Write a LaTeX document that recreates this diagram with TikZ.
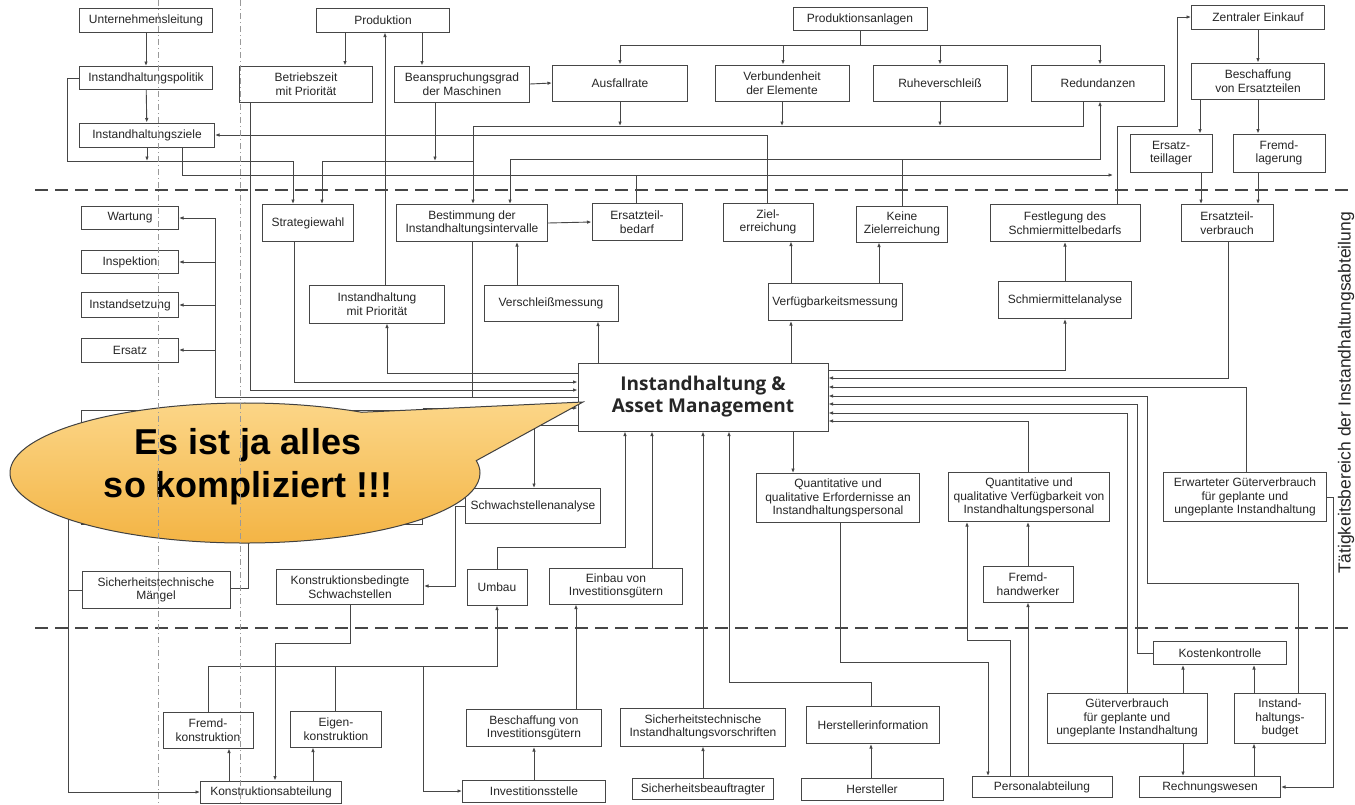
\documentclass[tikz,border=0pt]{standalone}
\usepackage{fontspec}
\setmainfont{Liberation Sans}
\newfontfamily\iamfont{Open Sans}
\usepackage{tikz}
\usetikzlibrary{arrows.meta,shapes.callouts}
\definecolor{linie}{RGB}{70,70,70}
\definecolor{blasehell}{RGB}{252,216,140}
\definecolor{blasedunkel}{RGB}{243,178,64}
\tikzset{
   box/.style={draw=linie, line width=1pt, fill=white, rectangle, inner sep=1pt, align=center,
               font=\fontsize{12}{13.5}\selectfont, text=black!85},
   bw/.style={minimum width=#1pt},
   bh/.style={minimum height=#1pt},
   link/.style={draw=linie, line width=0.9pt},
   flow/.style={link, -{Latex[length=4.5pt,width=3.6pt]}}
}

\begin{document}
\begin{tikzpicture}[x=1pt,y=-1pt]
  \tikzstyle{trenn} = [linie, line width=1.6pt, dash pattern=on 13pt off 7pt];
  \tikzstyle{hilfs} = [black!40, line width=0.6pt, dash pattern=on 6pt off 3pt on 1pt off 3pt];
  \tikzstyle{blasentext} = [font={\fontsize{36}{43}\selectfont\bfseries}, align=center];
  \useasboundingbox[fill=white] (0,0) rectangle (1355,804);

  % obere Ebene
  \node[box, bw=133, bh=24] (unt) at (146,20) {Unternehmensleitung};
  \node[box, bw=133, bh=24] (prod) at (383,20) {Produktion};
  \node[box, bw=134, bh=23] (panl) at (860,19) {Produktionsanlagen};
  \node[box, bw=133, bh=24] (zeink) at (1258,17) {Zentraler Einkauf};
  \node[box, bw=133, bh=23] (ihpol) at (146,78) {Instandhaltungspolitik};
  \node[box, bw=133, bh=36] (betr) at (306,84) {Betriebszeit\\mit Priorität};
  \node[box, bw=135, bh=36] (bean) at (462,84) {Beanspruchungsgrad\\der Maschinen};
  \node[box, bw=135, bh=36] (ausf) at (620,83) {Ausfallrate};
  \node[box, bw=134, bh=36] (verb) at (782,83) {Verbundenheit\\der Elemente};
  \node[box, bw=134, bh=36] (ruhe) at (940,83) {Ruheverschleiß};
  \node[box, bw=133, bh=36] (redu) at (1098,83) {Redundanzen};
  \node[box, bw=133, bh=36] (besch) at (1258,81) {Beschaffung\\von Ersatzteilen};
  \node[box, bw=135, bh=24] (ihziel) at (147,135) {Instandhaltungsziele};
  \node[box, bw=82, bh=38] (etlag) at (1171,153) {Ersatz-\\teillager};
  \node[box, bw=92, bh=38] (fremdl) at (1279,153) {Fremd-\\lagerung};

  % Taetigkeitsbereich
  \node[box, bw=97, bh=23] (wart) at (130,218) {Wartung};
  \node[box, bw=97, bh=23] (inspe) at (130,262) {Inspektion};
  \node[box, bw=97, bh=25] (isetz) at (130,305) {Instandsetzung};
  \node[box, bw=97, bh=24] (ersatz) at (130,350) {Ersatz};
  \node[box, bw=91, bh=37] (strat) at (308,223) {Strategiewahl};
  \node[box, bw=151, bh=37] (bestim) at (472,223) {Bestimmung der\\Instandhaltungsintervalle};
  \node[box, bw=90, bh=37] (etbed) at (637,222) {Ersatzteil-\\bedarf};
  \node[box, bw=90, bh=38] (ziel) at (768,222) {Ziel-\\erreichung};
  \node[box, bw=91, bh=36] (kziel) at (902,224) {Keine\\Zielerreichung};
  \node[box, bw=150, bh=37] (fest) at (1065,223) {Festlegung des\\Schmiermittelbedarfs};
  \node[box, bw=92, bh=37] (etverb) at (1227,223) {Ersatzteil-\\verbrauch};
  \node[box, bw=135, bh=38] (ihprio) at (377,304) {Instandhaltung\\mit Priorität};
  \node[box, bw=134, bh=36] (versch) at (551,303) {Verschleißmessung};
  \node[box, bw=134, bh=37] (verf) at (835,302) {Verfügbarkeitsmessung};
  \node[box, bw=133, bh=37] (schmier) at (1065,300) {Schmiermittelanalyse};
  \node[box, bw=250, bh=68, font={\iamfont\fontsize{19}{22}\selectfont\bfseries}] (iam) at (703,397)
       {Instandhaltung \&\\Asset Management};
  \node[box, bw=341, bh=114] (verdeckt) at (252,467) {};
  \node[box, bw=135, bh=35] (schwach) at (533,506) {Schwachstellenanalyse};
  \node[box, bw=163, bh=49] (qerf) at (838,498) {Quantitative und\\qualitative Erfordernisse an\\Instandhaltungspersonal};
  \node[box, bw=161, bh=49] (qverf) at (1029,497) {Quantitative und\\qualitative Verfügbarkeit von\\Instandhaltungspersonal};
  \node[box, bw=163, bh=49] (erwart) at (1245,497) {Erwarteter Güterverbrauch\\für geplante und\\ungeplante Instandhaltung};
  \node[box, bw=148, bh=37] (maengel) at (156,590) {Sicherheitstechnische\\Mängel};
  \node[box, bw=147, bh=35] (kbed) at (350,587) {Konstruktionsbedingte\\Schwachstellen};
  \node[box, bw=60, bh=36] (umbau) at (497,587) {Umbau};
  \node[box, bw=133, bh=36] (einbau) at (616,586) {Einbau von\\Investitionsgütern};
  \node[box, bw=90, bh=36] (fremdh) at (1028,584) {Fremd-\\handwerker};

  % untere Ebene
  \node[box, bw=133, bh=23] (kosten) at (1220,653) {Kostenkontrolle};
  \node[box, bw=90, bh=36] (fremdk) at (208,730) {Fremd-\\konstruktion};
  \node[box, bw=91, bh=36] (eigenk) at (336,729) {Eigen-\\konstruktion};
  \node[box, bw=135, bh=37] (beinv) at (534,728) {Beschaffung von\\Investitionsgütern};
  \node[box, bw=165, bh=38] (sivor) at (703,727) {Sicherheitstechnische\\Instandhaltungsvorschriften};
  \node[box, bw=133, bh=37] (hinfo) at (873,725) {Herstellerinformation};
  \node[box, bw=160, bh=50] (guet) at (1127,718) {Güterverbrauch\\für geplante und\\ungeplante Instandhaltung};
  \node[box, bw=91, bh=50] (budget) at (1280,718) {Instand-\\haltungs-\\budget};
  \node[box, bw=141, bh=22] (konab) at (271,792) {Konstruktionsabteilung};
  \node[box, bw=143, bh=22] (invst) at (534,791) {Investitionsstelle};
  \node[box, bw=141, bh=21] (sibea) at (703,789) {Sicherheitsbeauftragter};
  \node[box, bw=142, bh=22] (herst) at (872,789) {Hersteller};
  \node[box, bw=140, bh=21] (pers) at (1042,787) {Personalabteilung};
  \node[box, bw=141, bh=21] (rechn) at (1210,787) {Rechnungswesen};

  \node[rotate=90, font=\fontsize{17.5}{20}\selectfont, text=black!85] (bereich) at (1346,393)
       {Tätigkeitsbereich der Instandhaltungsabteilung};

  \draw[trenn] (35,190) -- (1355,190);
  \draw[trenn] (35,628) -- (1355,628);

  % Verbindungen oben
  \draw[flow] (unt) -- (ihpol);
  \draw[flow] (ihpol) -- (ihziel);
  \draw[flow] (prod.south -| 345,0) -- (betr.north -| 345,0);
  \draw[flow] (prod.south -| 422,0) -- (bean.north -| 422,0);
  \draw[flow] (ihprio.north -| 385,0) -- (prod.south -| 385,0);
  \draw[flow] (bean.east) -- (ausf.west);
  \coordinate (abus) at (860,45);
  \draw[link] (panl.south) -- (abus);
  \draw[link] (ausf.north |- abus) -- (1100,45);
  \foreach \n/\xx in {ausf/620, verb/783, ruhe/940, redu/1100}
    \draw[flow] (\xx,45) -- (\n.north -| \xx,0);
  \coordinate (bbus) at (473,126);
  \draw[flow] (bbus) -- (bestim.north -| bbus);
  \draw[link] (bbus) -- (1083,126) -- (redu.south -| 1083,0);
  \foreach \n in {ausf,verb,ruhe}
    \draw[flow] (\n.south) -- (\n.south |- bbus);
  \draw[flow] (ziel.north -| 767,0) |- (ihziel.east);
  \draw[flow] (ihpol.west) -| (67,161) -| (strat.north -| 293,0);
  \draw[flow] (ihziel.south) -- (ihziel.south |- 0,161);
  \draw[flow] (bean.south -| 435,0) -- (435,161);
  \draw[flow] (bbus |- 0,161) -| (strat.north -| 322,0);
  \draw[flow] (ihziel.south -| 182,0) |- (1113,175);
  \draw[link] (etbed.north -| 636,0) -- (636,175);
  \draw[flow] (fest.north -| 1117,0) |- (1177,126) |- (zeink.west);
  \coordinate (kbus) at (902,159);
  \draw[link] (kziel.north -| kbus) -- (kbus);
  \draw[flow] (kbus) -| (bestim.north -| 510,0);
  \draw[flow] (kbus) -| (redu.south -| 1100,0);
  \draw[flow] (zeink) -- (besch);
  \draw[flow] (besch.south -| 1200,0) -- (etlag.north -| 1200,0);
  \draw[flow] (besch.south -| 1258,0) -- (fremdl.north -| 1258,0);
  \draw[flow] (etlag.south -| 1201,0) -- (etverb.north -| 1201,0);
  \draw[flow] (fremdl.south -| 1258,0) -- (etverb.north -| 1258,0);

  % um die Instandhaltung herum
  \draw[flow] (bestim.east) -- (etbed.west);
  \draw[flow] (versch.north -| 517,0) -- (bestim.south -| 517,0);
  \draw[flow] (iam.north -| 598,0) -- (versch.south -| 598,0);
  \draw[flow] (iam.north -| 791,0) -- (verf.south -| 791,0);
  \draw[flow] (verf.north -| 791,0) -- (ziel.south -| 791,0);
  \draw[flow] (verf.north -| 879,0) -- (kziel.south -| 879,0);
  \draw[flow] (schmier.north) -- (fest.south);
  \draw[flow] (iam.west |- 0,373) -| (ihprio.south -| 387,0);
  \draw[flow] (strat.south -| 294,0) |- (iam.west |- 0,382);
  \draw[flow] (betr.south -| 250,0) |- (iam.west |- 0,390);
  \coordinate (wbus) at (215,397);
  \draw[link] (bestim.south -| 472,0) -- (472,397);
  \draw[link] (iam.west |- wbus) -- (wbus) -- (wart.east -| wbus);
  \foreach \n in {wart,inspe,isetz,ersatz}
    \draw[flow] (\n.east -| wbus) -- (\n.east);
  \draw[flow] (verdeckt.east |- 0,408) -- (iam.west |- 0,408);
  \draw[flow] (iam.west |- 0,425) -| (schwach.north -| 534,0);
  \draw[flow] (iam.east |- 0,370) -| (schmier.south);
  \draw[flow] (etverb.south -| 1228,0) |- (iam.east |- 0,378);
  \draw[flow] (erwart.north -| 1246,0) |- (iam.east |- 0,387);
  \draw[flow] (budget.north -| 1298,0) |- (1147,583) |- (iam.east |- 0,396);
  \draw[flow] (kosten.west) -| (1137,404) -- (iam.east |- 0,404);
  \draw[flow] (guet.north -| 1127,0) |- (iam.east |- 0,413);
  \draw[flow] (qverf.north -| 1028,0) |- (iam.east |- 0,421);
  \draw[flow] (umbau.north) |- (625,547) -- (iam.south -| 625,0);
  \draw[flow] (einbau.north -| 652,0) -- (iam.south -| 652,0);
  \draw[flow] (sivor.north) -- (iam.south);
  \draw[flow] (hinfo.north -| 871,0) |- (729,682) -- (iam.south -| 729,0);
  \draw[flow] (iam.south -| 793,0) -- (qerf.north -| 793,0);

  % Verbindungen unten
  \draw[flow] (verdeckt.west) -| (68,792) -- (konab.west);
  \draw[link] (maengel.west) -- (maengel.west -| 68,0);
  \draw[link] (maengel.east |- 0,588) -| (verdeckt.south -| 248,0);
  \draw[flow] (schwach.west) -| (455,586) -- (kbed.east |- 0,586);
  \draw[flow] (kbed.south) |- (275,643) -- (konab.north -| 275,0);
  \draw[flow] (konab.north -| 229,0) -- (fremdk.south -| 229,0);
  \draw[flow] (konab.north -| 313,0) -- (eigenk.south -| 313,0);
  \draw[flow] (fremdk.north) |- (umbau.south |- 0,666) -- (umbau.south);
  \draw[link] (eigenk.north -| 335,0) -- (335,666);
  \draw[flow] (423,666) |- (invst.west);
  \draw[flow] (invst.north) -- (beinv.south);
  \draw[flow] (beinv.north -| 576,0) -- (einbau.south -| 576,0);
  \draw[flow] (sibea) -- (sivor);
  \draw[flow] (herst.north -| 871,0) -- (hinfo.south -| 871,0);
  \draw[flow] (qerf.south -| 840,0) |- (988,662) -- (pers.north -| 988,0);
  \draw[flow] (pers.north -| 1010,0) |- (967,640) -- (qverf.south -| 967,0);
  \draw[flow] (pers.north -| 1028,0) -- (fremdh.south -| 1028,0);
  \draw[flow] (fremdh.north) -- (qverf.south -| fremdh.north);
  \draw[flow] (guet.north -| 1183,0) -- (kosten.south -| 1183,0);
  \draw[flow] (budget.north -| 1254,0) -- (kosten.south -| 1254,0);
  \draw[flow] (guet.south -| 1183,0) -- (rechn.north -| 1183,0);
  \draw[flow] (rechn.north -| 1254,0) -- (budget.south -| 1254,0);
  \draw[flow] (erwart.east) -| (1333,787) -- (rechn.east);

  % Sprechblase
  \node[ellipse callout, draw=black!75, line width=1pt, top color=blasehell, bottom color=blasedunkel,
        minimum width=470pt, minimum height=140pt, callout absolute pointer={(583,402)},
        callout pointer arc=50] (blase) at (245,473) {};
  \node[blasentext, text=black] (spruch) at (248,467) {Es ist ja alles\\so kompliziert !!!};

  \draw[hilfs] (158,0) -- (158,804);
  \draw[hilfs] (240,0) -- (240,804);
\end{tikzpicture}
\end{document}
